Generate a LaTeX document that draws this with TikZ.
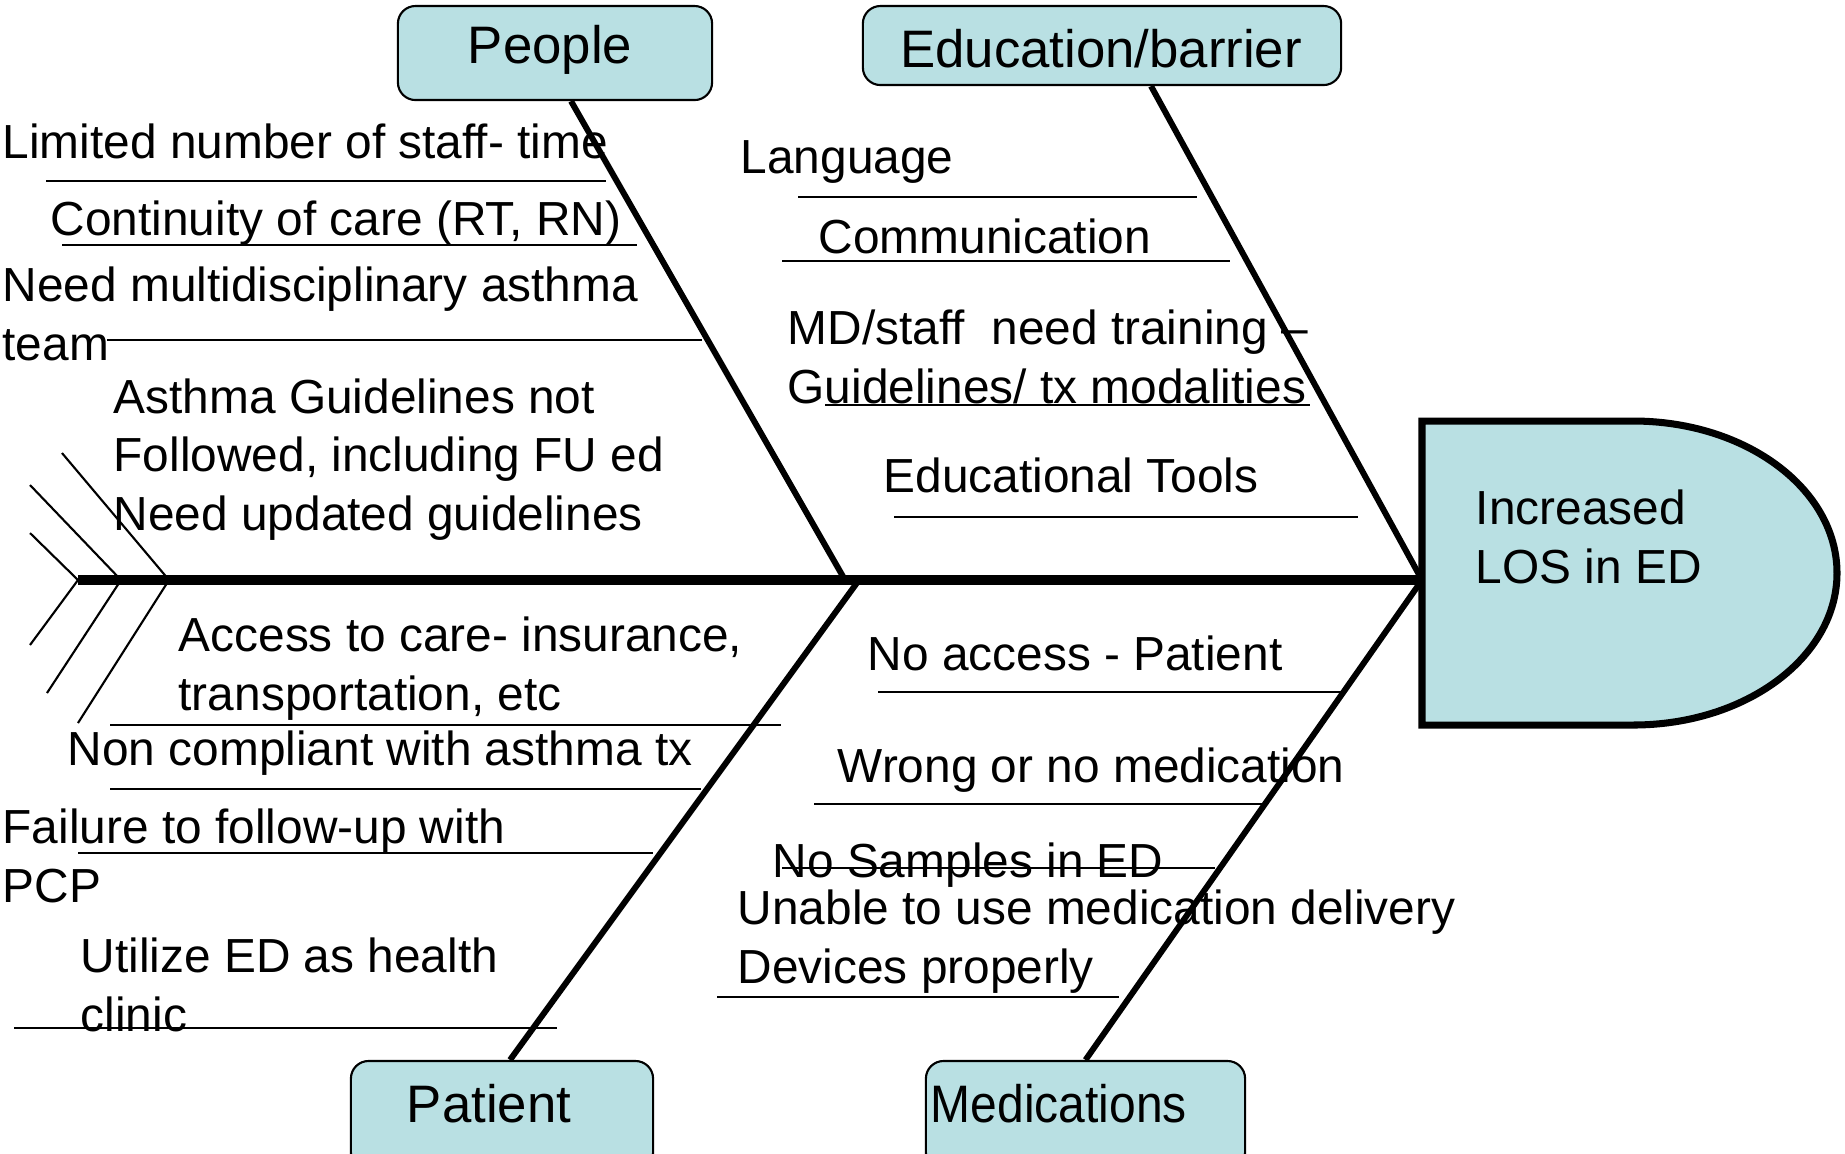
\documentclass[tikz,border=0pt]{standalone}
\usepackage{fontspec}
\setmainfont{Liberation Sans}
\definecolor{boxfill}{RGB}{185,224,227}
\begin{document}
\begin{tikzpicture}[x=0.01cm,y=-0.01cm,
  txt/.style={anchor=base west, inner sep=0pt, align=left,
    font=\fontsize{13.6}{16.6}\selectfont},
  cattxt/.style={anchor=base, inner sep=0pt,
    font=\fontsize{15}{18}\selectfont},
  catbox/.style={draw, line width=0.6pt, fill=boxfill,
    rounded corners=5pt, inner sep=0pt},
  spine/.style={line width=3.1pt},
  bone/.style={line width=1.7pt},
  twig/.style={line width=0.6pt},
  fin/.style={line width=0.6pt}]
\useasboundingbox (0,0) rectangle (1845,1153);

% category boxes
\node[catbox, minimum width=3.14cm, minimum height=0.94cm] (people) at (555,53) {};
\node[catbox, minimum width=4.78cm, minimum height=0.79cm] (edu) at (1102,45.5) {};
\node[catbox, minimum width=3.02cm, minimum height=1.09cm] (patient) at (502,1115.5) {};
\node[catbox, minimum width=3.19cm, minimum height=1.09cm] (meds) at (1085.5,1115.5) {};

\node[cattxt] (peopleT) at (550,63) {People};
\node[cattxt] (eduT) at (1101,67) {Education/barrier};
\node[cattxt] (patientT) at (489,1122) {Patient};
\node[cattxt, anchor=base west] (medsT) at (930,1122) {\scalebox{0.91}[1]{Medications}};

% effect (fish head)
\draw[line width=2pt, fill=boxfill] (1422,421) -- (1633,421)
  .. controls (1746,421) and (1837,489) .. (1837,573)
  .. controls (1837,657) and (1746,725) .. (1633,725)
  -- (1422,725) -- cycle;
% multi-line nodes: the base anchor sits on the last line
\node[txt] (effect) at (1475,583) {Increased\\LOS in ED};

% spine and junctions
\coordinate (tailEnd) at (78,580);
\coordinate (headL) at (1422,580);
\coordinate (jPeople) at (845,580);
\coordinate (jPatient) at (859,580);

% tail fins
\draw[fin] (30,533) -- (tailEnd) -- (30,645);
\draw[fin] (30,485) -- (121,580) -- (47,693);
\draw[fin] (62,453) -- (169,580) -- (78,723);

\draw[spine] (tailEnd) -- (headL);

% main bones
\draw[bone] ([xshift=0.16cm]people.south) -- (jPeople);
\draw[bone] ([xshift=0.49cm]edu.south) -- (headL);
\draw[bone] (jPatient) -- ([xshift=0.08cm]patient.north);
\draw[bone] (headL) -- (meds.north);

% causes: people
\node[txt] (c1) at (2,158) {Limited number of staff- time};
\draw[twig] (46,181) -- (606,181);
\node[txt] (c2) at (50,235) {Continuity of care (RT, RN)};
\draw[twig] (62,245) -- (637,245);
\node[txt] (c3) at (2,360) {Need multidisciplinary asthma\\team};
\draw[twig] (107,340) -- (702,340);
\node[txt] (c4) at (113,530) {Asthma Guidelines not\\Followed, including FU ed\\Need updated guidelines};

% causes: patient
\node[txt] (c5) at (178,710) {Access to care- insurance,\\transportation, etc};
\draw[twig] (110,725) -- (781,725);
\node[txt] (c6) at (67,765) {Non compliant with asthma tx};
\draw[twig] (110,789) -- (701,789);
\node[txt] (c7) at (2,902) {Failure to follow-up with\\PCP};
\draw[twig] (78,853) -- (653,853);
\node[txt] (c8) at (80,1031) {Utilize ED as health\\clinic};
\draw[twig] (14,1028) -- (557,1028);

% causes: education/barrier
\node[txt] (c9) at (740,173) {Language};
\draw[twig] (798,197) -- (1197,197);
\node[txt] (c10) at (818,253) {Communication};
\draw[twig] (782,261) -- (1230,261);
\node[txt] (c11) at (787,403) {MD/staff\ \ need training –\\Guidelines/ tx modalities};
\draw[twig] (825,405) -- (1310,405);
\node[txt] (c12) at (883,492) {Educational Tools};
\draw[twig] (894,517) -- (1358,517);

% causes: medications
\node[txt] (c13) at (867,670) {No access - Patient};
\draw[twig] (878,692) -- (1341,692);
\node[txt] (c14) at (837,782) {Wrong or no medication};
\draw[twig] (814,804) -- (1262,804);
\node[txt] (c15) at (772,877) {No Samples in ED};
\draw[twig] (782,868) -- (1215,868);
\node[txt] (c16) at (737,983) {Unable to use medication delivery\\Devices properly};
\draw[twig] (717,997) -- (1119,997);
\end{tikzpicture}
\end{document}
